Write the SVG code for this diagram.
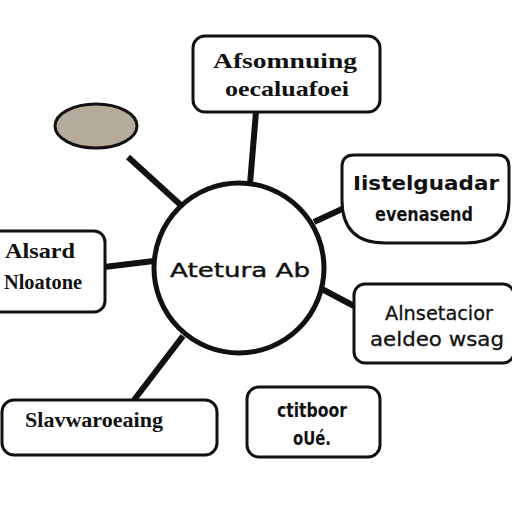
<svg xmlns="http://www.w3.org/2000/svg" width="512" height="512" viewBox="0 0 512 512">
<style>
.box{fill:#fff;stroke:#111;stroke-width:3}
.con{stroke:#111;stroke-width:6;stroke-linecap:butt;fill:none}
.serif{font-family:"Liberation Serif","DejaVu Serif",serif;font-weight:bold;font-size:21px;fill:#111}
.sans{font-family:"DejaVu Sans","Liberation Sans",sans-serif;font-size:20px;fill:#111}
</style>
<rect width="512" height="512" fill="#fff"/>
<g id="connectors">
<line class="con" x1="256" y1="112" x2="250" y2="184"/>
<line class="con" x1="128" y1="157" x2="184" y2="208"/>
<line class="con" x1="314" y1="222" x2="342" y2="209"/>
<line class="con" x1="104" y1="267" x2="154" y2="261"/>
<line class="con" x1="320" y1="288" x2="354" y2="306"/>
<line class="con" x1="183" y1="336" x2="134" y2="400"/>
</g>
<g id="ellipse">
<ellipse cx="96" cy="126" rx="41" ry="22" fill="#b4ab9c" stroke="#111" stroke-width="3"/>
</g>
<g id="center">
<circle cx="239" cy="268" r="85" fill="#fff" stroke="#111" stroke-width="5"/>
<text class="sans" x="240" y="277" text-anchor="middle" font-size="23" stroke="#111" stroke-width="0.4" textLength="140" lengthAdjust="spacingAndGlyphs">Atetura Ab</text>
</g>
<g id="top">
<rect class="box" x="193" y="36" width="187" height="76" rx="12"/>
<text class="serif" x="285" y="68" text-anchor="middle" textLength="144" lengthAdjust="spacingAndGlyphs">Afsomnuing</text>
<text class="serif" x="287" y="96" text-anchor="middle" textLength="124" lengthAdjust="spacingAndGlyphs">oecaluafoei</text>
</g>
<g id="right-top">
<path class="box" d="M354,155 H498 Q509,155 509,167 V200 Q509,243 466,243 H385 Q342,243 342,200 V167 Q342,155 354,155 Z"/>
<text class="sans" x="426" y="190" text-anchor="middle" font-weight="bold" textLength="146" lengthAdjust="spacingAndGlyphs">Iistelguadar</text>
<text class="sans" x="424" y="221" text-anchor="middle" font-weight="bold" textLength="98" lengthAdjust="spacingAndGlyphs">evenasend</text>
</g>
<g id="left">
<rect class="box" x="-10" y="231" width="115" height="81" rx="11"/>
<text class="serif" x="40" y="258" text-anchor="middle" textLength="70" lengthAdjust="spacingAndGlyphs">Alsard</text>
<text class="serif" x="43" y="289" text-anchor="middle" textLength="78" lengthAdjust="spacingAndGlyphs">Nloatone</text>
</g>
<g id="right-bottom">
<rect class="box" x="354" y="284" width="160" height="79" rx="11"/>
<text class="sans" x="439" y="320" text-anchor="middle" font-size="22" stroke="#111" stroke-width="0.3" textLength="108" lengthAdjust="spacingAndGlyphs">Alnsetacior</text>
<text class="sans" x="437" y="346" text-anchor="middle" font-size="22" stroke="#111" stroke-width="0.3" textLength="134" lengthAdjust="spacingAndGlyphs">aeldeo wsag</text>
</g>
<g id="bottom-left">
<rect class="box" x="2" y="400" width="215" height="55" rx="12"/>
<text class="serif" x="94" y="427" text-anchor="middle" textLength="138" lengthAdjust="spacingAndGlyphs">Slavwaroeaing</text>
</g>
<g id="bottom-middle">
<rect class="box" x="247" y="387" width="133" height="70" rx="12"/>
<text class="sans" x="312" y="417" text-anchor="middle" font-weight="bold" textLength="70" lengthAdjust="spacingAndGlyphs">ctitboor</text>
<text class="sans" x="312" y="445" text-anchor="middle" font-weight="bold" textLength="38" lengthAdjust="spacingAndGlyphs">oUé.</text>
</g>
</svg>
